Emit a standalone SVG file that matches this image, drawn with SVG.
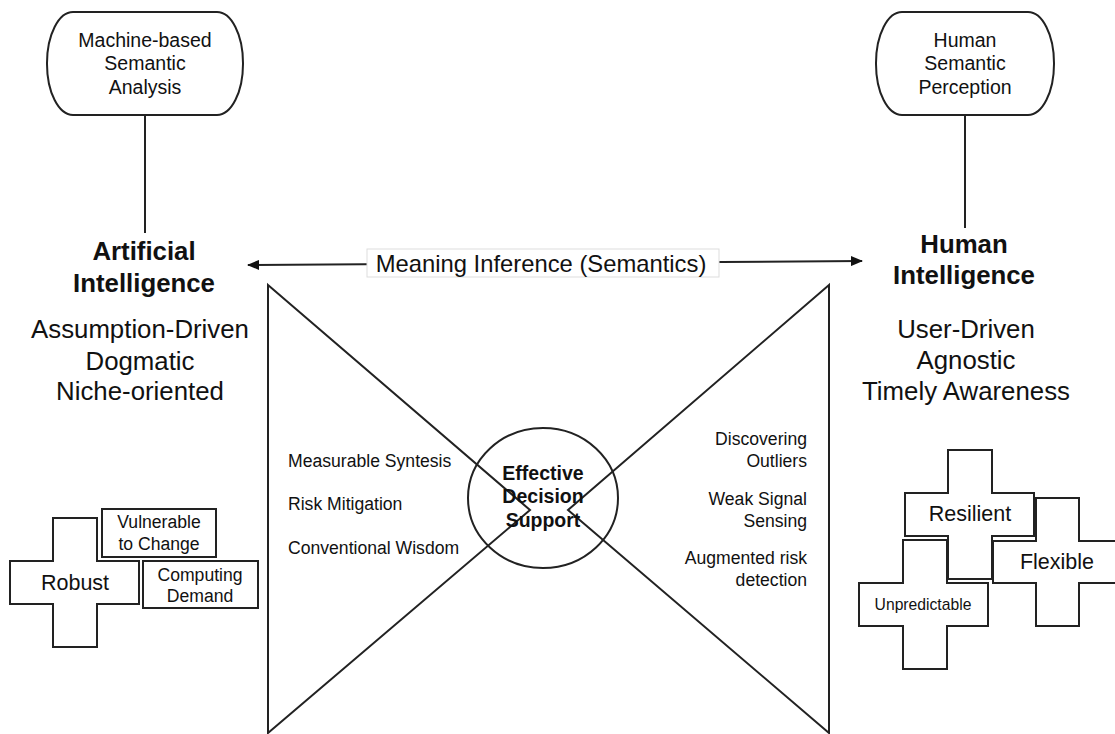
<svg xmlns="http://www.w3.org/2000/svg" width="1115" height="734" viewBox="0 0 1115 734">
<defs>
<style>
text{font-family:"Liberation Sans",Arial,Helvetica,sans-serif;fill:#111;}
.shape{fill:#fff;stroke:#222;stroke-width:2;}
.line{fill:none;stroke:#222;stroke-width:2;}
.c{text-anchor:middle;}
.r{text-anchor:end;}
.b{font-weight:bold;}
.t19{font-size:19.5px;}
.t26{font-size:25.8px;}
.t17{font-size:17.6px;}
.t21{font-size:21.5px;}
</style>
<marker id="arr" viewBox="0 0 12 10" refX="11" refY="5" markerWidth="12" markerHeight="10" markerUnits="userSpaceOnUse" orient="auto-start-reverse">
<path d="M0,0 L12,5 L0,10 Z" fill="#111"/>
</marker>
</defs>
<rect width="1115" height="734" fill="#fff"/>

<g id="connectors">
<line class="line" x1="145" y1="115" x2="145" y2="233"/>
<line class="line" x1="965" y1="115" x2="965" y2="228"/>
<line class="line" x1="248" y1="265" x2="862" y2="261" marker-start="url(#arr)" marker-end="url(#arr)"/>
</g>

<g id="node-machine">
<rect class="shape" x="47" y="12" width="196" height="103" rx="26" ry="51"/>
<text class="c t19" x="145" y="47">Machine-based</text>
<text class="c t19" x="145" y="70">Semantic</text>
<text class="c t19" x="145" y="94">Analysis</text>
</g>

<g id="node-human-perception">
<rect class="shape" x="876" y="12" width="178" height="103" rx="26" ry="51"/>
<text class="c t19" x="965" y="47">Human</text>
<text class="c t19" x="965" y="70">Semantic</text>
<text class="c t19" x="965" y="94">Perception</text>
</g>

<g id="label-meaning">
<rect x="367" y="249" width="352" height="28" fill="#fff" stroke="#ddd" stroke-width="1"/>
<text class="c" x="541" y="272" style="font-size:23.8px">Meaning Inference (Semantics)</text>
</g>

<g id="node-ai">
<text class="c b t26" x="144" y="260">Artificial</text>
<text class="c b t26" x="144" y="292">Intelligence</text>
<text class="c t26" x="140" y="338">Assumption-Driven</text>
<text class="c t26" x="140" y="370">Dogmatic</text>
<text class="c t26" x="140" y="400">Niche-oriented</text>
</g>

<g id="node-hi">
<text class="c b t26" x="964" y="253">Human</text>
<text class="c b t26" x="964" y="284">Intelligence</text>
<text class="c t26" x="966" y="338">User-Driven</text>
<text class="c t26" x="966" y="369">Agnostic</text>
<text class="c t26" x="966" y="400">Timely Awareness</text>
</g>

<g id="bowtie-left">
<path class="shape" d="M268,285 L530,510 L268,733 Z"/>
<text class="t17" x="288" y="467">Measurable Syntesis</text>
<text class="t17" x="288" y="510">Risk Mitigation</text>
<text class="t17" x="288" y="554">Conventional Wisdom</text>
</g>

<g id="bowtie-right">
<path class="shape" d="M829,285 L568,510 L829,733 Z"/>
<text class="r t17" x="807" y="445">Discovering</text>
<text class="r t17" x="807" y="467">Outliers</text>
<text class="r t17" x="807" y="505">Weak Signal</text>
<text class="r t17" x="807" y="527">Sensing</text>
<text class="r t17" x="807" y="564">Augmented risk</text>
<text class="r t17" x="807" y="586">detection</text>
</g>

<g id="node-effective">
<ellipse class="line" cx="543" cy="498" rx="75" ry="70"/>
<text class="c b t19" x="543" y="480">Effective</text>
<text class="c b t19" x="543" y="503">Decision</text>
<text class="c b t19" x="543" y="527">Support</text>
</g>

<g id="node-robust">
<path class="shape" d="M53,518 H97 V561 H139 V604 H97 V647 H53 V604 H10 V561 H53 Z"/>
<text class="c t21" x="75" y="590">Robust</text>
</g>

<g id="node-vulnerable">
<rect class="shape" x="102" y="509" width="114" height="48"/>
<text class="c t17" x="159" y="528">Vulnerable</text>
<text class="c t17" x="159" y="550">to Change</text>
</g>

<g id="node-computing">
<rect class="shape" x="143" y="561" width="115" height="47"/>
<text class="c t17" x="200" y="581">Computing</text>
<text class="c t17" x="200" y="602">Demand</text>
</g>

<g id="node-resilient">
<path class="shape" d="M948,450 H992 V493 H1034 V536 H992 V579 H948 V536 H905 V493 H948 Z"/>
<text class="c t21" x="970" y="521">Resilient</text>
</g>

<g id="node-flexible">
<path class="shape" d="M1036,498 H1079 V541 H1122 V583 H1079 V626 H1036 V583 H993 V541 H1036 Z"/>
<text class="c t21" x="1057" y="569">Flexible</text>
</g>

<g id="node-unpredictable">
<path class="shape" d="M903,540 H947 V583 H988 V626 H947 V669 H903 V626 H859 V583 H903 Z"/>
<text class="c" x="923" y="610" style="font-size:15.7px">Unpredictable</text>
</g>
</svg>
